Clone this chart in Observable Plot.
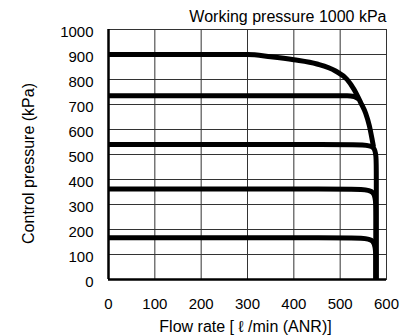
<!DOCTYPE html>
<html>
<head>
<meta charset="utf-8">
<script src="https://cdn.jsdelivr.net/npm/d3@7"></script>
<script src="https://cdn.jsdelivr.net/npm/@observablehq/plot@0.6"></script>
<style>
  html, body { margin: 0; padding: 0; background: #fff; }
</style>
</head>
<body>
<div id="chart"></div>
<script>
// Tick values
const xTicks = [0, 100, 200, 300, 400, 500, 600];
const yTicks = [0, 100, 200, 300, 400, 500, 600, 700, 800, 900, 1000];

// Texts
const titleText = "Working pressure 1000 kPa";
const xLabel = "Flow rate [ \u2113 /min (ANR)]";
const yLabel = "Control pressure (kPa)";

// Curves: [flow (l/min), control pressure (kPa)]
const curve900 = [[0, 900], [300, 900], [350, 891], [400, 879], [450, 862], [490, 834], [515, 800], [530, 760], [545, 705], [555, 665], [563, 615], [569, 560], [572, 530]];
const curve735 = [[0, 735], [515, 735], [530, 732], [540, 722]];
const curve540 = [[0, 540], [540, 540], [578, 540], [578, 460], [578, 0]];
const curve362 = [[0, 362], [535, 362], [577, 362], [577, 280], [577, 0]];
const curve167 = [[0, 167], [535, 167], [577, 167], [577, 85], [577, 0]];

const font = "'Liberation Sans', Arial, Helvetica, sans-serif";
const lineOpts = (curve) => ({x: d => d[0], y: d => d[1], stroke: "#000", strokeWidth: 5, strokeLinecap: "butt", strokeLinejoin: "round", curve});

const chart = Plot.plot({
  width: 411,
  height: 336,
  marginLeft: 108,
  marginRight: 25,
  marginTop: 29,
  marginBottom: 57,
  style: {fontFamily: font, fontSize: "15px", color: "#000", background: "#fff"},
  x: {domain: [0, 600]},
  y: {domain: [0, 1000]},
  marks: [
    Plot.gridX(xTicks, {stroke: "#333", strokeOpacity: 1, strokeWidth: 1}),
    Plot.gridY(yTicks, {stroke: "#333", strokeOpacity: 1, strokeWidth: 1}),
    Plot.frame({stroke: "#333", strokeWidth: 1}),
    Plot.axisX(xTicks, {tickSize: 0, tickPadding: 19, label: null, fontSize: 15, tickFormat: d => String(d)}),
    Plot.axisY(yTicks, {tickSize: 0, tickPadding: 15, label: null, fontSize: 15, dy: 2.5, tickFormat: d => String(d)}),
    Plot.ruleX([0], {stroke: "#000", strokeWidth: 2.5}),
    Plot.ruleY([0], {stroke: "#000", strokeWidth: 2.5}),
    Plot.line(curve900, lineOpts("monotone-x")),
    Plot.line(curve735, lineOpts("monotone-x")),
    Plot.line(curve540, lineOpts("basis")),
    Plot.line(curve362, lineOpts("basis")),
    Plot.line(curve167, lineOpts("basis")),
    Plot.text([titleText], {frameAnchor: "top-right", text: d => d, lineAnchor: "bottom", dy: -8, fontSize: 16, fill: "#000"}),
    Plot.text([xLabel], {frameAnchor: "bottom", text: d => d, lineAnchor: "bottom", dx: -2, dy: 52, fontSize: 16, fill: "#000"}),
    Plot.text([yLabel], {frameAnchor: "left", text: d => d, rotate: -90, textAnchor: "middle", lineAnchor: "middle", dx: -80, dy: 9, fontSize: 16, fill: "#000"})
  ]
});
document.getElementById("chart").appendChild(chart);
</script>
</body>
</html>
